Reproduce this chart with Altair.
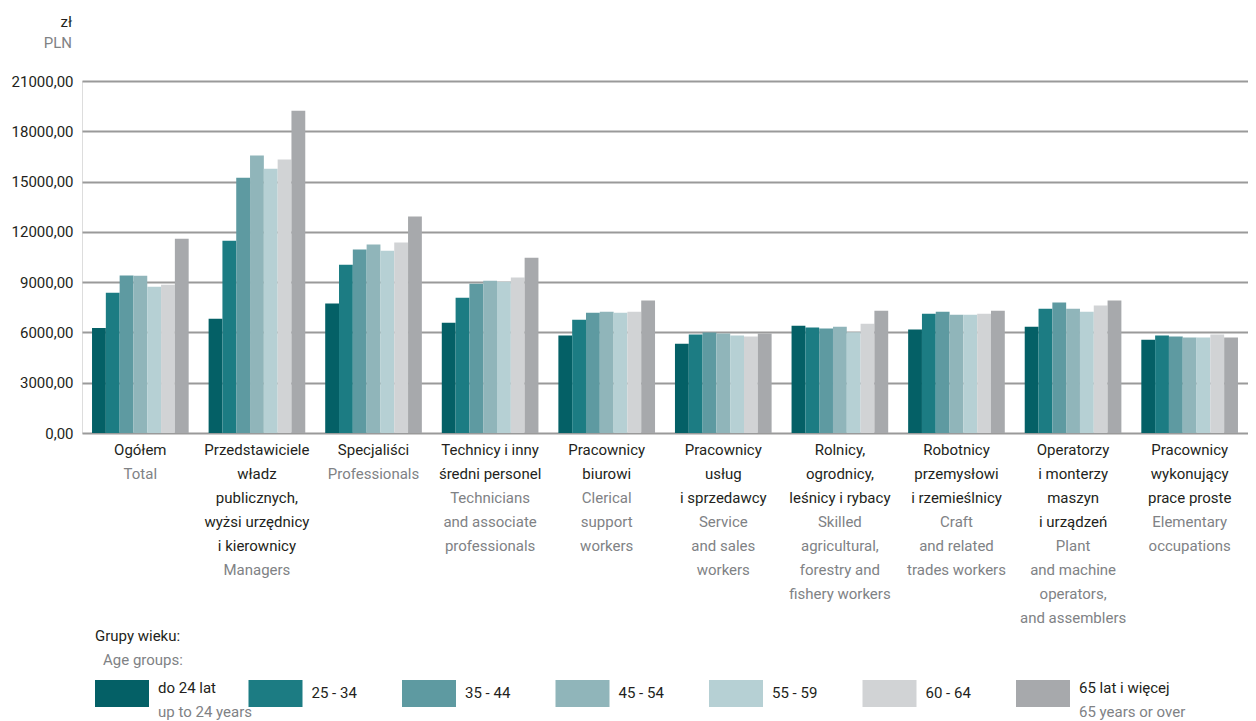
import altair as alt
import pandas as pd

# ---------------- data ----------------
ages = ["do 24 lat", "25 - 34", "35 - 44", "45 - 54", "55 - 59", "60 - 64", "65 lat i więcej"]
ages_en = ["up to 24 years", "", "", "", "", "", "65 years or over"]
colors = ["#046066", "#1c7c83", "#5e9aa1", "#90b5ba", "#b6d0d4", "#d1d3d5", "#a7a9ac"]

categories = ["Ogółem", "Przedstawiciele", "Specjaliści", "Technicy", "Biurowi",
              "Usługi", "Rolnicy", "Robotnicy", "Operatorzy", "Proste"]
labels_pl = [
    ["Ogółem"],
    ["Przedstawiciele", "władz", "publicznych,", "wyżsi urzędnicy", "i kierownicy"],
    ["Specjaliści"],
    ["Technicy i inny", "średni personel"],
    ["Pracownicy", "biurowi"],
    ["Pracownicy", "usług", "i sprzedawcy"],
    ["Rolnicy,", "ogrodnicy,", "leśnicy i rybacy"],
    ["Robotnicy", "przemysłowi", "i rzemieślnicy"],
    ["Operatorzy", "i monterzy", "maszyn", "i urządzeń"],
    ["Pracownicy", "wykonujący", "prace proste"],
]
labels_en = [
    ["Total"],
    ["Managers"],
    ["Professionals"],
    ["Technicians", "and associate", "professionals"],
    ["Clerical", "support", "workers"],
    ["Service", "and sales", "workers"],
    ["Skilled", "agricultural,", "forestry and", "fishery workers"],
    ["Craft", "and related", "trades workers"],
    ["Plant", "and machine", "operators,", "and assemblers"],
    ["Elementary", "occupations"],
]

v_ogolem = [6270, 8370, 9390, 9380, 8730, 8850, 11590]
v_managers = [6820, 11470, 15230, 16550, 15770, 16310, 19230]
v_specjalisci = [7720, 10040, 10940, 11240, 10880, 11360, 12910]
v_technicy = [6580, 8070, 8910, 9090, 9030, 9270, 10460]
v_biurowi = [5810, 6760, 7180, 7240, 7180, 7240, 7900]
v_uslugi = [5330, 5870, 5990, 5930, 5810, 5750, 5930]
v_rolnicy = [6400, 6290, 6230, 6340, 6010, 6520, 7300]
v_robotnicy = [6170, 7120, 7240, 7060, 7060, 7120, 7300]
v_operatorzy = [6340, 7420, 7780, 7420, 7240, 7600, 7900]
v_proste = [5570, 5810, 5750, 5690, 5690, 5870, 5690]
series = [v_ogolem, v_managers, v_specjalisci, v_technicy, v_biurowi,
          v_uslugi, v_rolnicy, v_robotnicy, v_operatorzy, v_proste]

y_ticks = [0, 3000, 6000, 9000, 12000, 15000, 18000, 21000]

# ---------------- tables ----------------
rows = []
for cat, vals in zip(categories, series):
    for a, v in zip(ages, vals):
        rows.append({"cat": cat, "age": a, "value": v})
df = pd.DataFrame(rows)

lab = pd.DataFrame({
    "cat": categories,
    "pl": ["\n".join(l) for l in labels_pl],
    "en": ["\n".join(l) for l in labels_en],
    "n": [len(l) for l in labels_pl],
})
leg = pd.DataFrame({"age": ages, "en": ages_en})

# ---------------- style ----------------
FONT = "Roboto"
FS = 15
DARK = "#231f20"
GREY = "#808285"
W, H = 1166, 352
LH = 24
LABEL_TOP = 362

xscale = alt.Scale(domain=categories, paddingInner=0.171, paddingOuter=0.086)
cscale = alt.Scale(domain=ages, range=colors)

bars = alt.Chart(df).mark_bar().encode(
    x=alt.X("cat:N", scale=xscale, sort=categories,
            axis=alt.Axis(labels=False, ticks=False, domain=False, title=None)),
    xOffset=alt.XOffset("age:N", sort=ages, scale=alt.Scale(domain=ages, paddingInner=0, paddingOuter=0)),
    y=alt.Y("value:Q", scale=alt.Scale(domain=[0, 21000], nice=False),
            axis=alt.Axis(values=y_ticks, title=None, domain=False, ticks=False,
                          labelExpr="replace(format(datum.value, '.2f'), '.', ',')",
                          labelFont=FONT, labelFontSize=FS, labelColor=DARK, labelPadding=9,
                          gridColor="#9a9a9a", gridWidth=2)),
    color=alt.Color("age:N", scale=cscale, legend=None),
)

txt_pl = alt.Chart(lab).mark_text(
    font=FONT, fontSize=FS, color=DARK, lineBreak="\n", lineHeight=LH,
    baseline="top", align="center"
).encode(x=alt.X("cat:N", scale=xscale, sort=categories, axis=None),
         y=alt.value(LABEL_TOP), text="pl:N")

en_layers = []
for n in sorted(set(lab["n"])):
    en_layers.append(
        alt.Chart(lab).transform_filter(f"datum.n == {n}").mark_text(
            font=FONT, fontSize=FS, color=GREY, lineBreak="\n", lineHeight=LH,
            baseline="top", align="center"
        ).encode(x=alt.X("cat:N", scale=xscale, sort=categories, axis=None),
                 y=alt.value(LABEL_TOP + LH * n), text="en:N")
    )

unit_zl = alt.Chart(pd.DataFrame({"t": ["zł"]})).mark_text(
    font=FONT, fontSize=FS, color=DARK, align="right", baseline="middle"
).encode(x=alt.value(-10), y=alt.value(-59), text="t:N")
unit_pln = alt.Chart(pd.DataFrame({"t": ["PLN"]})).mark_text(
    font=FONT, fontSize=FS, color=GREY, align="right", baseline="middle"
).encode(x=alt.value(-10), y=alt.value(-38), text="t:N")

# ---------------- legend (built as marks) ----------------
lscale = alt.Scale(type="point", domain=ages, range=[13, 934], padding=0)
leg_title = alt.Chart(pd.DataFrame({"t": ["Grupy wieku:"]})).mark_text(
    font=FONT, fontSize=FS, color=DARK, align="left", baseline="middle"
).encode(x=alt.value(13), y=alt.value(555), text="t:N")
leg_title_en = alt.Chart(pd.DataFrame({"t": ["Age groups:"]})).mark_text(
    font=FONT, fontSize=FS, color=GREY, align="left", baseline="middle"
).encode(x=alt.value(21), y=alt.value(579), text="t:N")

leg_sw = alt.Chart(leg).mark_bar(width=54, xOffset=27).encode(
    x=alt.X("age:N", scale=lscale, sort=ages, axis=None),
    y=alt.value(599), y2=alt.value(626),
    color=alt.Color("age:N", scale=cscale, legend=None),
)
leg_pl2 = alt.Chart(leg).transform_filter("datum.en != ''").mark_text(
    font=FONT, fontSize=FS, color=DARK, align="left", baseline="middle", dx=63
).encode(x=alt.X("age:N", scale=lscale, sort=ages, axis=None),
         y=alt.value(607), text="age:N")
leg_pl1 = alt.Chart(leg).transform_filter("datum.en == ''").mark_text(
    font=FONT, fontSize=FS, color=DARK, align="left", baseline="middle", dx=63
).encode(x=alt.X("age:N", scale=lscale, sort=ages, axis=None),
         y=alt.value(612), text="age:N")
leg_en = alt.Chart(leg).transform_filter("datum.en != ''").mark_text(
    font=FONT, fontSize=FS, color=GREY, align="left", baseline="middle", dx=63
).encode(x=alt.X("age:N", scale=lscale, sort=ages, axis=None),
         y=alt.value(631), text="en:N")

chart = alt.layer(
    bars, txt_pl, *en_layers, unit_zl, unit_pln,
    leg_title, leg_title_en, leg_sw, leg_pl2, leg_pl1, leg_en
).resolve_scale(x="independent").properties(
    width=W, height=H,
    autosize=alt.AutoSizeParams(type="none"),
    padding={"left": 74, "top": 73, "right": 0, "bottom": 288},
).configure_view(stroke=None).configure(background="white")

chart.save("out.html", embed_options={"renderer": "svg", "actions": False})
